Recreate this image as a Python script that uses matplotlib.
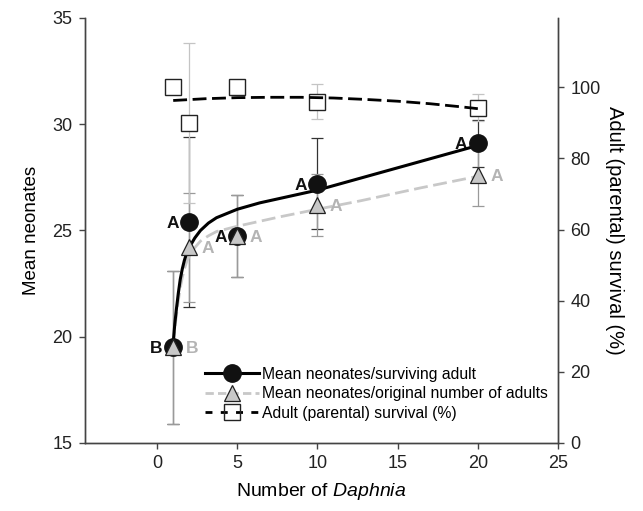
import matplotlib
matplotlib.use("Agg")
import matplotlib.pyplot as plt
from matplotlib.lines import Line2D

plt.rcParams['font.family'] = ['Liberation Sans', 'DejaVu Sans']
plt.rcParams['mathtext.fontset'] = 'custom'
plt.rcParams['mathtext.it'] = 'Liberation Sans:italic'
plt.rcParams['mathtext.rm'] = 'Liberation Sans'

# Number of Daphnia per treatment
daphnia = [1, 2, 5, 10, 20]

# Mean neonates per surviving adult (black circles)
neo_surv = [19.5, 25.4, 24.75, 27.2, 29.1]
neo_surv_err = [3.6, 4.0, 1.92, 2.15, 1.1]
neo_surv_letters = ['B', 'A', 'A', 'A', 'A']

# Mean neonates per original number of adults (grey triangles)
neo_orig = [19.5, 24.2, 24.75, 26.2, 27.6]
neo_orig_err = [3.6, 2.55, 1.92, 1.46, 1.45]
neo_orig_letters = ['B', 'A', 'A', 'A', 'A']

# Adult (parental) survival (%) (open squares)
survival = [100, 90, 100, 96, 94.2]
survival_err = [0, 22.4, 0, 5, 3.8]

# fitted curves
fit_surv_x = [1, 1.1, 1.2, 1.32, 1.44, 1.57, 1.7, 1.85, 2.0, 2.35, 2.7, 3.2, 3.7, 5, 6.4, 10, 15, 20]
fit_surv_y = [19.7, 20.6, 21.3, 22.05, 22.7, 23.2, 23.6, 23.95, 24.2, 24.65, 25.0, 25.35, 25.6, 26.0, 26.3, 26.9, 27.95, 29.0]
fit_orig_x = [1, 1.1, 1.2, 1.32, 1.44, 1.57, 1.7, 1.85, 2.0, 2.3, 2.7, 3.2, 3.7, 5, 7.7, 10, 12.7, 16.4, 20]
fit_orig_y = [19.6, 20.4, 21.0, 21.7, 22.3, 22.8, 23.2, 23.55, 23.8, 24.15, 24.5, 24.75, 24.95, 25.2, 25.65, 26.0, 26.4, 27.0, 27.55]
fit_survival_x = [1, 3, 5, 7, 9, 11, 13, 15, 17, 19, 20]
fit_survival_y = [96.3, 96.8, 97.1, 97.2, 97.2, 97.0, 96.6, 96.1, 95.4, 94.5, 94.0]

GREY = '#c8c8c8'
AXC = '#444444'

fig = plt.figure(figsize=(6.43, 5.11), dpi=100)
ax = fig.add_axes([0.1322, 0.1331, 0.7356, 0.8317])
ax2 = ax.twinx()

# left axis: neonates
ax.errorbar(daphnia, neo_surv, yerr=neo_surv_err, fmt='none', ecolor='#333333',
            elinewidth=0.9, capsize=4.3, capthick=0.9, zorder=2)
ax.errorbar(daphnia, neo_orig, yerr=neo_orig_err, fmt='none', ecolor='#9a9a9a',
            elinewidth=0.9, capsize=4.3, capthick=0.9, zorder=2)
ax.plot(fit_orig_x, fit_orig_y, color=GREY, lw=2.0, dashes=(5, 2), zorder=3)
ax.plot(fit_surv_x, fit_surv_y, color='black', lw=2.2, zorder=4)
ax.plot(daphnia, neo_surv, 'o', ms=12.5, color='#111111', mec='#111111', zorder=5)
ax.plot(daphnia, neo_orig, '^', ms=12, mfc=GREY, mec='#222222', mew=0.9, zorder=6)

for x, y, t in zip(daphnia, neo_surv, neo_surv_letters):
    ax.annotate(t, (x, y), xytext=(-12, -1), textcoords='offset points',
                ha='center', va='center', fontsize=12.5, fontweight='bold', color='#111111')
for x, y, t in zip(daphnia, neo_orig, neo_orig_letters):
    ax.annotate(t, (x, y), xytext=(13.5, -1), textcoords='offset points',
                ha='center', va='center', fontsize=12.5, fontweight='bold', color='#b4b4b4')

ax.set_xlim(-4.5, 25)
ax.set_ylim(15, 35)
ax.set_xticks([0, 5, 10, 15, 20, 25])
ax.set_yticks([15, 20, 25, 30, 35])
ax.set_xlabel('Number of $\\it{Daphnia}$', fontsize=14, labelpad=6)
ax.set_ylabel('Mean neonates', fontsize=13.5, labelpad=9)

# right axis: survival
ax2.errorbar(daphnia, survival, yerr=survival_err, fmt='none', ecolor='#c4c4c4',
             elinewidth=0.9, capsize=4.3, capthick=0.9, zorder=2)
ax2.plot(daphnia, survival, 's', ms=11, mfc='white', mec='#222222', mew=1.0, zorder=3)
ax2.plot(fit_survival_x, fit_survival_y, color='black', lw=2.0, dashes=(5, 2), zorder=4)
ax2.set_ylim(0, 119.5)
ax2.set_yticks([0, 20, 40, 60, 80, 100])
ax2.set_ylabel('Adult (parental) survival (%)', fontsize=14.5, rotation=270, labelpad=17)

for a in (ax, ax2):
    a.spines['top'].set_visible(False)
    for s in a.spines.values():
        s.set_color(AXC)
        s.set_linewidth(1.0)
    a.tick_params(direction='out', length=4, width=1, color=AXC, labelsize=13,
                  labelcolor='#222222', pad=5)

handles = [
    Line2D([], [], color='black', lw=2.2, marker='o', ms=12.5, mfc='#111111', mec='#111111'),
    Line2D([], [], color=GREY, lw=2.0, dashes=(3, 1.5), marker='^', ms=12, mfc=GREY, mec='#222222', mew=0.9),
    Line2D([], [], color='black', lw=2.0, dashes=(2.5, 3), marker='s', ms=11, mfc='none', mec='#222222', mew=1.0),
]
labels = ['Mean neonates/surviving adult',
          'Mean neonates/original number of adults',
          'Adult (parental) survival (%)']
ax2.legend(handles, labels, loc='upper left', bbox_to_anchor=(0.254, 0.179),
           frameon=False, fontsize=11.3, handlelength=3.4, handletextpad=0.2,
           borderpad=0, borderaxespad=0, labelspacing=0.28)

fig.savefig('out.png', dpi=100)
